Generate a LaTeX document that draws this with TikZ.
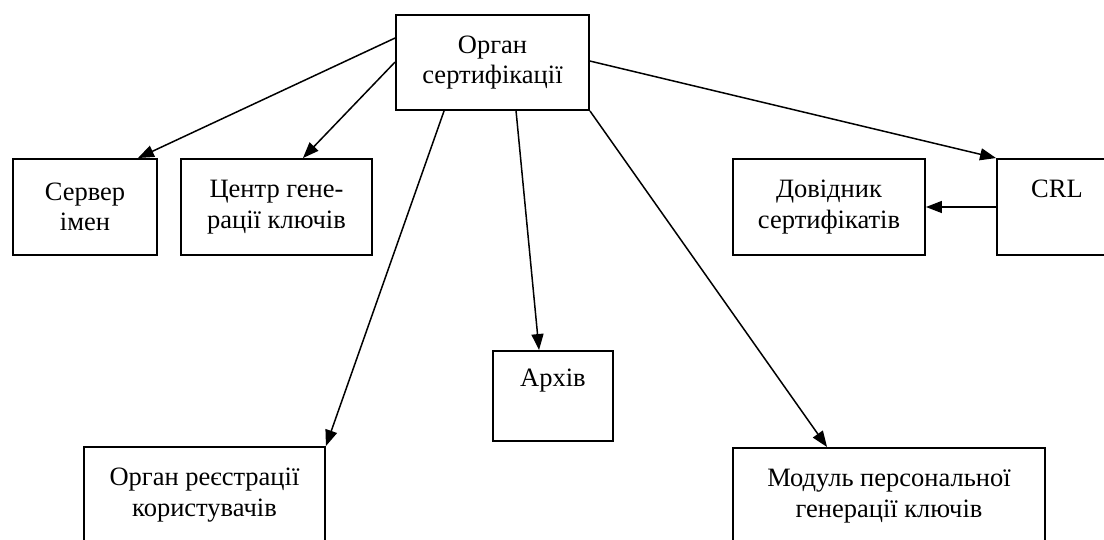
\documentclass[tikz,border=0pt]{standalone}
\usepackage{fontspec}
\setmainfont{Liberation Serif}
\usetikzlibrary{arrows.meta,calc}
\begin{document}
\begin{tikzpicture}[x=1pt,y=-1pt,
  box/.style={draw, line width=1.9pt, rectangle, inner sep=0pt, align=center,
    font=\fontsize{26.5}{30.5}\selectfont},
  arr/.style={line width=1.5pt, -{Triangle[length=16pt,width=12pt]}}]
\useasboundingbox (0,0) rectangle (1104,540);
\clip (0,0) rectangle (1104,540);
\node[box, minimum width=193pt, minimum height=95pt] (ca) at (492.5,62.5) {Орган\\сертифікації};
\node[box, minimum width=144pt, minimum height=96pt] (srv) at (85,207) {Сервер\\імен};
\node[box, minimum width=191pt, minimum height=96pt] (kgc) at (276.5,207) {Центр гене-\\рації ключів};
\node[box, minimum width=192pt, minimum height=96pt] (dir) at (829,207) {Довідник\\сертифікатів};
\node[box, minimum width=120pt, minimum height=96pt] (crl) at (1057,207) {CRL\\\phantom{y}};
\node[box, minimum width=120pt, minimum height=90pt] (arch) at (553,396) {Архів\\\phantom{y}};
\node[box, minimum width=241pt, minimum height=96pt] (ra) at (204.5,495) {Орган реєстрації\\користувачів};
\node[box, minimum width=312pt, minimum height=96pt] (mod) at (889,496) {Модуль персональної\\генерації ключів};
\draw[arr] ([yshift=-24pt]ca.north west) -- ([xshift=-20pt]srv.north east);
\draw[arr] ([yshift=-48pt]ca.north west) -- ([xshift=-70pt]kgc.north east);
\draw[arr] ([xshift=49pt]ca.south west) -- (ra.north east);
\draw[arr] ([xshift=121pt]ca.south west) -- ([xshift=47pt]arch.north west);
\draw[arr] (ca.south east) -- ([xshift=95pt]mod.north west);
\draw[arr] ([yshift=-47pt]ca.north east) -- (crl.north west);
\draw[arr] (crl.west) -- (dir.east);
\end{tikzpicture}
\end{document}
